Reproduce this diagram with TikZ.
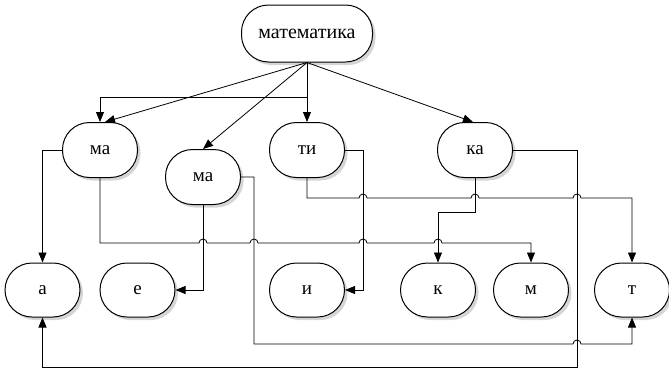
\documentclass[tikz,border=0pt]{standalone}
\usepackage{fontspec}
\setmainfont{Liberation Serif}
\usetikzlibrary{arrows.meta,shadows,calc}

\begin{document}
\begin{tikzpicture}[x=1pt,y=-1pt,
  wordbox/.style={draw, line width=1pt, fill=white, rounded corners=27pt,
    minimum width=75pt, minimum height=55pt, inner sep=0pt,
    font=\fontsize{19}{21}\selectfont,
    drop shadow={shadow xshift=3pt, shadow yshift=-3pt, fill=gray!55, opacity=0.6}},
  link/.style={line width=0.8pt, -{Triangle[length=10pt,width=8pt]}}]
\useasboundingbox (0,0) rectangle (669,370);

% word and its syllables
\node[wordbox, minimum width=131pt, minimum height=57pt,
      font=\fontsize{20}{22}\selectfont] (top) at (307,33.5) {математика};
\node[wordbox] (ma1) at (100,150) {ма};
\node[wordbox] (ma2) at (203,177) {ма};
\node[wordbox] (ti)  at (307,150) {ти};
\node[wordbox] (ka)  at (475,150) {ка};

% letters
\node[wordbox, minimum height=54pt] (a) at (42.5,290) {а};
\node[wordbox, minimum height=54pt] (e) at (137.5,290) {е};
\node[wordbox, minimum height=54pt] (i) at (307,290) {и};
\node[wordbox, minimum height=54pt] (k) at (438,290) {к};
\node[wordbox, minimum height=54pt] (m) at (531,290) {м};
\node[wordbox, minimum height=54pt] (t) at (632,290) {т};

% word -> syllables
\coordinate (fork) at (307,97);
\draw[link] (top.south) -- ($(ma1.north)+(5,0)$);
\draw[link] (top.south) -- (ti.north);
\draw[link] (fork) -| (ma1.north);
\draw[link] (top.south) -- (ma2.north);
\draw[link] (top.south) -- ($(ka.north)+(-2,0)$);

% syllables -> letters (small arcs hop over crossing lines)
\draw[link] (ma1.west) -| (a.north);
\draw[link] (ma1.south) |- (199,243)
   arc[start angle=180,end angle=360,radius=4] -- (250,243)
   arc[start angle=180,end angle=360,radius=4] -- (359,243)
   arc[start angle=180,end angle=360,radius=4] -- (434,243)
   arc[start angle=180,end angle=360,radius=4] -| (m.north);
\draw[link] (ma2.south) |- (e.east);
\draw[link] (ma2.east) -| (254,344) -- (573,344)
   arc[start angle=180,end angle=360,radius=4] -| (t.south);
\draw[link] (ti.east) -| (363,290) -- (i.east);
\draw[link] (ti.south) |- (359,198)
   arc[start angle=180,end angle=360,radius=4] -- (471,198)
   arc[start angle=180,end angle=360,radius=4] -- (573,198)
   arc[start angle=180,end angle=360,radius=4] -| (t.north);
\draw[link] (ka.south) -- (475,212) -| (k.north);
\draw[link] (ka.east) -| (577,367) -| (a.south);
\end{tikzpicture}
\end{document}
